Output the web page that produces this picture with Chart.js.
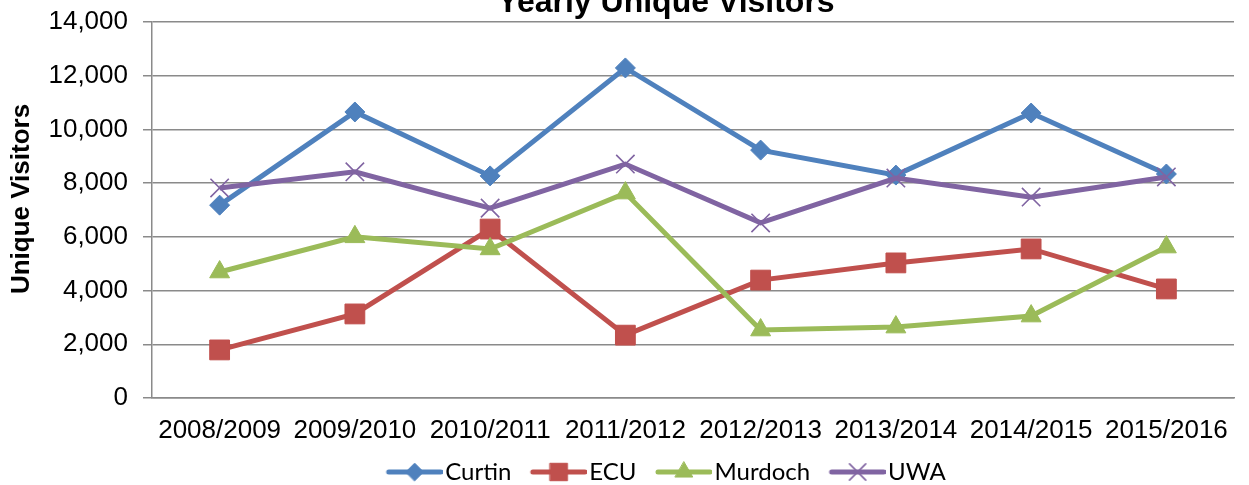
<!DOCTYPE html>
<html>
<head>
<meta charset="utf-8">
<script src="https://cdn.jsdelivr.net/npm/chart.js@4.4.0/dist/chart.umd.min.js"></script>
<style>
  html, body { margin: 0; padding: 0; background: #fff; }
  #wrap { width: 1249px; height: 485px; position: relative; }
</style>
</head>
<body>
<div id="wrap"><canvas id="myChart"></canvas></div>
<script>
// data
var years = ['2008/2009', '2009/2010', '2010/2011', '2011/2012', '2012/2013', '2013/2014', '2014/2015', '2015/2016'];
var curtin = [7180, 10650, 8270, 12290, 9230, 8300, 10610, 8340];
var ecu = [1790, 3130, 6290, 2340, 4390, 5030, 5550, 4060];
var murdoch = [4690, 6000, 5550, 7630, 2530, 2640, 3050, 5620];
var uwa = [7820, 8420, 7070, 8710, 6520, 8190, 7480, 8230];
var yTicks = [0, 2000, 4000, 6000, 8000, 10000, 12000, 14000];

var gridColor = '#8a8a8a';

var series = [
  { label: 'Curtin', data: curtin, color: '#4f81bd', style: 'rectRot', radius: 10, bw: 1 },
  { label: 'ECU', data: ecu, color: '#c0504d', style: 'rect', radius: 14, bw: 1 },
  { label: 'Murdoch', data: murdoch, color: '#9bbb59', style: 'triangle', radius: 11.5, bw: 1 },
  { label: 'UWA', data: uwa, color: '#8064a2', style: 'crossRot', radius: 13, bw: 1.6 }
];

// little line+marker pictures for the legend (line sits in the right 56px)
function legendIcon(s) {
  var c = document.createElement('canvas');
  c.width = 66;
  c.height = 26;
  var g = c.getContext('2d');
  g.strokeStyle = s.color;
  g.lineWidth = 5;
  g.lineCap = 'round';
  g.beginPath();
  g.moveTo(12, 13);
  g.lineTo(64, 13);
  g.stroke();
  g.fillStyle = s.color;
  g.lineWidth = s.bw;
  Chart.helpers.drawPoint(g, { pointStyle: s.style, radius: s.radius * 0.88, borderWidth: s.bw, rotation: 0 }, 38, 13);
  return c;
}

var titles = {
  id: 'titles',
  afterLayout: function(chart) {
    // put the legend row where the original sits
    var lg = chart.legend;
    if (lg) {
      lg.left += 46; lg.right += 46;
      lg.top = 441; lg.bottom = chart.height;
    }
  },
  afterDraw: function(chart) {
    var ctx = chart.ctx;
    ctx.save();
    ctx.fillStyle = '#000';
    ctx.font = 'bold 32px "Liberation Sans", Arial, sans-serif';
    ctx.textAlign = 'center';
    ctx.textBaseline = 'alphabetic';
    ctx.fillText('Yearly Unique Visitors', 666, 12);
    ctx.translate(22, 199);
    ctx.rotate(-Math.PI / 2);
    ctx.font = 'bold 26px "Liberation Sans", Arial, sans-serif';
    ctx.textBaseline = 'middle';
    ctx.fillText('Unique Visitors', 0, 0);
    ctx.restore();
  }
};

var ctx = document.getElementById('myChart');
var myChart = new Chart(ctx, {
  type: 'line',
  data: {
    labels: years,
    datasets: series.map(function(s, i) {
      return {
        label: s.label,
        data: s.data,
        borderColor: s.color,
        backgroundColor: s.color,
        borderWidth: 5,
        pointStyle: s.style,
        pointRadius: s.radius,
        pointHoverRadius: s.radius,
        pointBorderWidth: s.bw,
        pointBackgroundColor: s.color,
        pointBorderColor: s.color,
        tension: 0,
        fill: false,
        order: series.length - i
      };
    })
  },
  options: {
    maintainAspectRatio: false,
    responsive: true,
    animation: false,
    layout: { padding: { top: 22, right: 9, left: 0, bottom: 0 } },
    scales: {
      x: {
        offset: true,
        grid: { display: false, drawTicks: false },
        border: { display: true, color: gridColor, width: 1.5 },
        ticks: {
          color: '#000',
          padding: 17,
          maxRotation: 0,
          autoSkip: false,
          font: { family: '"Liberation Sans", Arial, sans-serif', size: 26 }
        },
        afterFit: function(scale) {
          scale.height = 50;
          scale.paddingLeft = 0;
          scale.paddingRight = 0;
        }
      },
      y: {
        min: 0,
        max: 14000,
        afterBuildTicks: function(scale) {
          scale.ticks = yTicks.map(function(v) { return { value: v }; });
        },
        grid: { color: gridColor, lineWidth: 1.5, tickLength: 9, tickColor: gridColor },
        border: { display: true, color: gridColor, width: 1.5 },
        ticks: {
          color: '#000',
          padding: 15,
          font: { family: '"Liberation Sans", Arial, sans-serif', size: 26 },
          callback: function(v) { return v.toLocaleString('en-US'); }
        },
        afterFit: function(scale) {
          scale.width = 152;
          scale.paddingTop = 0;
          scale.paddingBottom = 0;
        }
      }
    },
    plugins: {
      tooltip: { enabled: false },
      legend: {
        position: 'bottom',
        maxHeight: 37,
        labels: {
          usePointStyle: true,
          pointStyleWidth: 47,
          padding: 19,
          color: '#000',
          font: { family: 'Lato, "Open Sans", sans-serif', size: 24 },
          generateLabels: function(chart) {
            return series.map(function(s, i) {
              return {
                text: s.label,
                pointStyle: legendIcon(s),
                fillStyle: s.color,
                strokeStyle: s.color,
                lineWidth: 0,
                hidden: false,
                datasetIndex: i,
                fontColor: '#000'
              };
            });
          }
        }
      }
    }
  },
  plugins: [titles]
});
</script>
</body>
</html>
